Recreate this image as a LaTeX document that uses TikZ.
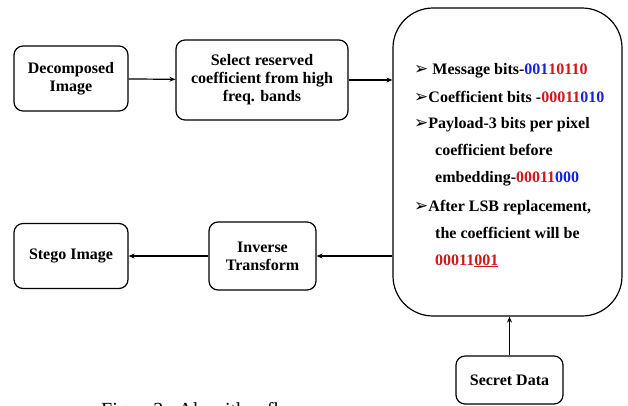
\documentclass[tikz,border=0pt]{standalone}
\usepackage{fontspec}
\setmainfont{Liberation Serif}
\newfontfamily\symfont{DejaVu Sans}
\usetikzlibrary{arrows.meta}
\definecolor{bitred}{RGB}{205,25,30}
\definecolor{bitblue}{RGB}{25,35,215}
\tikzset{
  stepbox/.style={draw,line width=1.2pt,rounded corners=9pt,align=center,
    font=\bfseries\fontsize{16}{18}\selectfont,inner sep=2pt},
  flow/.style={-{Stealth[length=6pt,width=5pt]},line width=1.2pt},
  bitline/.style={anchor=base west,inner sep=0pt,font=\bfseries\fontsize{16}{18}\selectfont}
}
\newcommand{\rb}[1]{\textcolor{bitred}{#1}}
\newcommand{\bb}[1]{\textcolor{bitblue}{#1}}
\newcommand{\arrowbullet}{{\symfont\bfseries\fontsize{17}{17}\selectfont\char"27A2}}
\begin{document}
\begin{tikzpicture}[x=1pt,y=-1pt]
\useasboundingbox (0,0) rectangle (628,405);
% boxes
\node[stepbox,minimum width=114pt,minimum height=65pt] (dec) at (71,78.5) {Decomposed\\Image};
\node[stepbox,minimum width=172pt,minimum height=80pt] (sel) at (262,80) {Select reserved\\coefficient from high\\freq. bands};
\node[draw,line width=1.2pt,rounded corners=40pt,minimum width=229pt,minimum height=308pt] (big) at (507.5,162) {};
\node[stepbox,minimum width=114pt,minimum height=65pt] (stego) at (71,256) {Stego Image};
\node[stepbox,minimum width=107pt,minimum height=68pt] (inv) at (262.5,256) {Inverse\\Transform};
\node[stepbox,minimum width=107pt,minimum height=48pt] (secret) at (509.5,380) {Secret Data};
% text inside the big box
\node[bitline] (l1) at (414,74) {\arrowbullet\ Message bits-\bb{001}\rb{10110}};
\node[bitline] (l2) at (414,102) {\arrowbullet Coefficient bits -\rb{00011}\bb{010}};
\node[bitline] (l3) at (414,128) {\arrowbullet Payload-3 bits per pixel};
\node[bitline] (l4) at (435,155) {coefficient before};
\node[bitline] (l5) at (435,182) {embedding-\rb{00011}\bb{000}};
\node[bitline] (l6) at (414,211) {\arrowbullet After LSB replacement,};
\node[bitline] (l7) at (435,238) {the coefficient will be};
\node[bitline] (l8) at (435,265) {\rb{00011\underline{001}}};
% arrows
\draw[flow] (dec) -- (sel);
\draw[flow] (sel.east) -- (sel.east -| big.west);
\draw[flow] (inv.east -| big.west) -- (inv.east);
\draw[flow] (inv) -- (stego);
\draw[flow] (secret.north) -- (secret.north |- big.south);
% caption
\node[anchor=base west,inner sep=0pt,font=\fontsize{20}{24}\selectfont] (cap) at (101,416) {Figure3.\ \ Algorithm flow};
\end{tikzpicture}
\end{document}
